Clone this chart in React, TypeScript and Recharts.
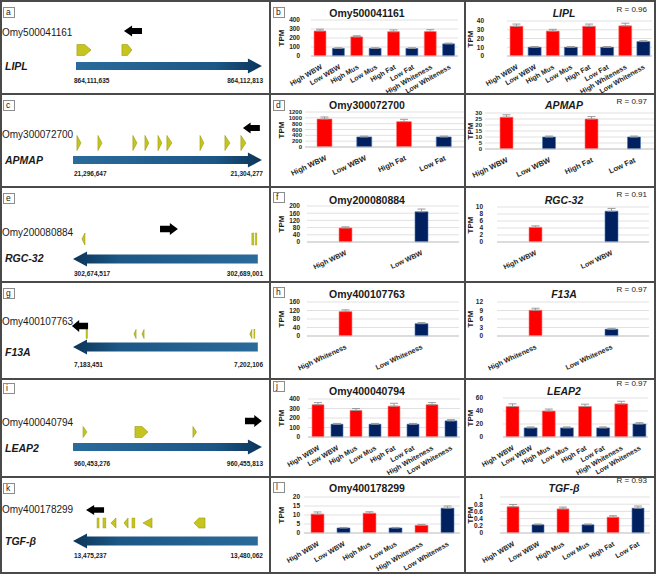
import {
  Bar,
  BarChart,
  CartesianGrid,
  Cell,
  ComposedChart,
  ErrorBar,
  ReferenceArea,
  XAxis,
  YAxis,
} from "recharts"

const FONT = "'Liberation Sans', Arial, sans-serif"
const RED = "#ff0000"
const NAVY = "#002060"
const EXON = "#c6c41e"
const INK = "#1a1a1a"

// ---- categories
const CAT_ALL = ["High WBW", "Low WBW", "High Mus", "Low Mus", "High Fat", "Low Fat", "High Whiteness", "Low Whiteness"]
const CAT_WBW_FAT = ["High WBW", "Low WBW", "High Fat", "Low Fat"]
const CAT_WBW = ["High WBW", "Low WBW"]
const CAT_WHITE = ["High Whiteness", "Low Whiteness"]
const CAT_L_MID = ["High WBW", "Low WBW", "High Mus", "Low Mus", "High Whiteness", "Low Whiteness"]
const CAT_L_RIGHT = ["High WBW", "Low WBW", "High Mus", "Low Mus", "High Fat", "Low Fat"]

// ---- TPM means and upper error bars
const B_OMY = [278, 85, 213, 85, 270, 85, 272, 135]
const B_OMY_ERR = [20, 6, 12, 6, 20, 6, 20, 8]
const B_LIPL = [34, 10, 28.5, 10, 34, 10, 34.5, 16.5]
const B_LIPL_ERR = [2.5, 0.8, 2, 0.8, 2.5, 0.8, 3, 1]
const D_OMY = [960, 345, 870, 345]
const D_OMY_ERR = [70, 30, 80, 30]
const D_APMAP = [26.5, 10, 25, 10]
const D_APMAP_ERR = [2, 0.8, 2, 0.8]
const F_OMY = [78, 168]
const F_OMY_ERR = [6, 15]
const F_RGC = [4.2, 8.8]
const F_RGC_ERR = [0.4, 0.8]
const H_OMY = [115, 58]
const H_OMY_ERR = [8, 5]
const H_F13A = [9.1, 2.4]
const H_F13A_ERR = [0.7, 0.3]
const J_OMY = [340, 135, 280, 135, 325, 135, 340, 170]
const J_OMY_ERR = [22, 8, 20, 8, 30, 8, 22, 12]
const J_LEAP2 = [47, 14, 40, 14, 47, 14, 51, 20]
const J_LEAP2_ERR = [4, 1.5, 3, 1.5, 3.5, 1.5, 4, 2]
const L_OMY = [10.5, 2.8, 11, 2.8, 4.3, 13.8]
const L_OMY_ERR = [1.2, 0.3, 0.8, 0.3, 0.5, 1.2]
const L_TGF = [0.73, 0.23, 0.67, 0.23, 0.44, 0.69]
const L_TGF_ERR = [0.06, 0.02, 0.05, 0.02, 0.04, 0.06]

// ---- y ticks
const B_OMY_TICKS = [0, 100, 200, 300, 400]
const B_LIPL_TICKS = [0, 10, 20, 30, 40]
const D_OMY_TICKS = [0, 200, 400, 600, 800, 1000, 1200]
const D_APMAP_TICKS = [0, 5, 10, 15, 20, 25, 30]
const F_OMY_TICKS = [0, 40, 80, 120, 160, 200]
const F_RGC_TICKS = [0, 2, 4, 6, 8, 10]
const H_OMY_TICKS = [0, 40, 80, 120, 160]
const H_F13A_TICKS = [0, 3, 6, 9, 12]
const J_OMY_TICKS = [0, 100, 200, 300, 400]
const J_LEAP2_TICKS = [0, 20, 40, 60]
const L_OMY_TICKS = [0, 5, 10, 15, 20]
const L_TGF_TICKS = [0, 0.2, 0.4, 0.6, 0.8, 1]

// ---- gene panels
const LEFT_LETTERS = ["a", "c", "e", "g", "i", "k"]
const MID_LETTERS = ["b", "d", "f", "h", "j", "l"]
const GENE_IDS = ["Omy500041161", "Omy300072700", "Omy200080884", "Omy400107763", "Omy400040794", "Omy400178299"]
const GENE_NAMES = ["LIPL", "APMAP", "RGC-32", "F13A", "LEAP2", "TGF-β"]
const GENE_STARTS = ["864,111,635", "21,296,647", "302,674,517", "7,183,451", "960,453,276", "13,475,237"]
const GENE_ENDS = ["864,112,813", "21,304,277", "302,689,001", "7,202,106", "960,455,813", "13,480,062"]
const R_VALUES = ["0.96", "0.97", "0.91", "0.97", "0.97", "0.93"]
const STRANDS = ["R", "R", "L", "L", "R", "L"]
// gene body span, % along the locus
const GENE_SPANS = [[0, 100], [-1.6, 100], [-1.6, 97.8], [-1.6, 97.8], [-1.6, 100], [-1.6, 97.8]]
// black arrows: [from, to, direction]
const TSS = [
  [25.8, 35.5, "L"],
  [89.8, 98.9, "L"],
  [45.2, 54.8, "R"],
  [-2.2, 6.5, "L"],
  [90.9, 100, "R"],
  [5.4, 15.1, "L"],
]
const A_EXONS = [[0.5, 8.1, "pentR"], [24.7, 30.1, "pentR"]]
const C_EXONS = [
  [0.5, 2.7, "triR"], [11.8, 14.0, "triR"], [30.6, 32.8, "triR"], [37.1, 39.2, "triR"], [44.1, 46.2, "triR"],
  [48.9, 51.6, "triR"], [66.7, 68.8, "triR"], [80.1, 82.8, "triR"], [88.7, 91.4, "triR"],
]
const E_EXONS = [[3.2, 4.8, "triL"], [94.6, 95.7, "bar"], [96.5, 97.3, "bar"]]
const G_EXONS = [[5.4, 6.2, "bar"], [31.2, 32.3, "triL"], [35.5, 36.6, "triL"], [93.5, 94.6, "triL"], [95.7, 96.2, "bar"]]
const I_EXONS = [[3.8, 5.9, "triR"], [31.7, 38.7, "pentR"], [62.9, 64.8, "triR"]]
const K_EXONS = [
  [11.3, 12.4, "bar"], [14.5, 16.1, "bar"], [18.8, 21.5, "triL"], [25.8, 28.0, "triL"],
  [30.1, 31.7, "bar"], [36.0, 40.9, "triL"], [63.4, 69.4, "pentL"],
]
const EXONS = [A_EXONS, C_EXONS, E_EXONS, G_EXONS, I_EXONS, K_EXONS]

const MID_CATS = [CAT_ALL, CAT_WBW_FAT, CAT_WBW, CAT_WHITE, CAT_ALL, CAT_L_MID]
const MID_VALUES = [B_OMY, D_OMY, F_OMY, H_OMY, J_OMY, L_OMY]
const MID_ERRS = [B_OMY_ERR, D_OMY_ERR, F_OMY_ERR, H_OMY_ERR, J_OMY_ERR, L_OMY_ERR]
const MID_TICKS = [B_OMY_TICKS, D_OMY_TICKS, F_OMY_TICKS, H_OMY_TICKS, J_OMY_TICKS, L_OMY_TICKS]
const RIGHT_CATS = [CAT_ALL, CAT_WBW_FAT, CAT_WBW, CAT_WHITE, CAT_ALL, CAT_L_RIGHT]
const RIGHT_VALUES = [B_LIPL, D_APMAP, F_RGC, H_F13A, J_LEAP2, L_TGF]
const RIGHT_ERRS = [B_LIPL_ERR, D_APMAP_ERR, F_RGC_ERR, H_F13A_ERR, J_LEAP2_ERR, L_TGF_ERR]
const RIGHT_TICKS = [B_LIPL_TICKS, D_APMAP_TICKS, F_RGC_TICKS, H_F13A_TICKS, J_LEAP2_TICKS, L_TGF_TICKS]

// layout per row (left panel values are local to the row, chart values are page coords)
const ROWS = [
  {
    top: 0, h: 94, letter: 7, id: 33, name: 66, gene: 66, geneH: 15, shaft: 8, exon: 50, exonH: 11, tss: 31, tssH: 11, coord: 81,
    mLetter: 7, title: 13, rY: 10,
    mid: { pl: 311, pr: 458, pt: 20, pb: 56, bar: 12, angle: -30, lf: 7, tf: 6.5, lr: 300 },
    right: { pl: 507, pr: 652, pt: 21, pb: 56, bar: 13, angle: -30, lf: 7, tf: 6.5, lr: 484 },
  },
  {
    top: 94, h: 93, letter: 6, id: 41, name: 66, gene: 66, geneH: 15, shaft: 8, exon: 49, exonH: 15, tss: 34, tssH: 11, coord: 80,
    mLetter: 6, title: 11, rY: 8,
    mid: { pl: 305, pr: 464, pt: 112, pb: 147, bar: 15, angle: -25, lf: 7.5, tf: 6, lr: 302 },
    right: { pl: 485, pr: 655, pt: 113, pb: 149, bar: 13, angle: -25, lf: 7.5, tf: 6, lr: 482 },
  },
  {
    top: 187, h: 95, letter: 6, id: 46, name: 71, gene: 72, geneH: 15, shaft: 9, exon: 52, exonH: 12, tss: 42, tssH: 12, coord: 87,
    mLetter: 5, title: 13, rY: 8,
    mid: { pl: 307, pr: 459, pt: 206, pb: 242, bar: 13, angle: -25, lf: 7, tf: 6.5, lr: 300 },
    right: { pl: 497, pr: 649, pt: 207, pb: 242, bar: 13, angle: -25, lf: 7, tf: 6.5, lr: 483 },
  },
  {
    top: 282, h: 97, letter: 6, id: 40, name: 70, gene: 65, geneH: 15, shaft: 9, exon: 52, exonH: 9, tss: 44, tssH: 12, coord: 83,
    mLetter: 5, title: 12, rY: 8,
    mid: { pl: 307, pr: 459, pt: 302, pb: 336, bar: 13, angle: -25, lf: 7, tf: 6.5, lr: 300 },
    right: { pl: 497, pr: 649, pt: 302, pb: 336, bar: 13, angle: -25, lf: 7, tf: 6.5, lr: 483 },
  },
  {
    top: 379, h: 98, letter: 4, id: 44, name: 69, gene: 68, geneH: 15, shaft: 8, exon: 53, exonH: 11, tss: 42, tssH: 12, coord: 85,
    mLetter: 2, title: 12, rY: 5,
    mid: { pl: 308, pr: 460, pt: 399, pb: 437, bar: 12, angle: -30, lf: 7, tf: 6.5, lr: 300 },
    right: { pl: 503, pr: 648, pt: 398, pb: 437, bar: 13, angle: -30, lf: 7, tf: 6.5, lr: 483 },
  },
  {
    top: 477, h: 96, letter: 6, id: 33, name: 64, gene: 64, geneH: 15, shaft: 9, exon: 46, exonH: 10, tss: 33, tssH: 10, coord: 79,
    mLetter: 5, title: 11, rY: 4,
    mid: { pl: 304, pr: 460, pt: 497, pb: 533, bar: 13, angle: -30, lf: 7, tf: 6.5, lr: 300 },
    right: { pl: 500, pr: 650, pt: 497, pb: 533, bar: 12, angle: -30, lf: 7, tf: 6.5, lr: 483 },
  },
]

const MID_X = 271
const MID_W = 193
const RIGHT_X = 466
const RIGHT_W = 190
const TRACK_X = 60
const TRACK_W = 206
const TRACK_DOMAIN = [-8.6, 102.2]

function Txt({ x, y, size, weight = 400, italic = false, align = "left", children }: any) {
  const tx = align === "center" ? "-50%" : align === "right" ? "-100%" : "0"
  return (
    <div
      style={{
        position: "absolute",
        left: x,
        top: y,
        transform: `translate(${tx}, -50%)`,
        fontSize: size,
        fontWeight: weight,
        fontStyle: italic ? "italic" : "normal",
        fontFamily: FONT,
        whiteSpace: "nowrap",
        lineHeight: 1,
        color: INK,
      }}
    >
      {children}
    </div>
  )
}

function LetterBox({ x, y, letter }: { x: number; y: number; letter: string }) {
  return (
    <div
      style={{
        position: "absolute",
        left: x,
        top: y,
        width: 12,
        height: 11,
        boxSizing: "border-box",
        border: "1px solid #8c8c8c",
        background: "#fff",
        fontSize: 8.5,
        fontFamily: FONT,
        lineHeight: "9px",
        paddingLeft: 2,
        color: INK,
      }}
    >
      {letter}
    </div>
  )
}

function Glyph(props: any) {
  const { x, y, width: w, height: h, kind, shaft, gradId } = props
  if (x == null || Number.isNaN(x)) return <g />
  const cy = y + h / 2
  const r = x + w
  const poly = (pts: number[][], fill: string, stroke = "none") => (
    <polygon points={pts.map((p) => p.join(",")).join(" ")} fill={fill} stroke={stroke} strokeWidth={0.6} />
  )
  if (kind === "geneR" || kind === "geneL") {
    const hl = 14
    const s = shaft / 2
    const pts =
      kind === "geneR"
        ? [[x, cy - s], [r - hl, cy - s], [r - hl, y], [r, cy], [r - hl, y + h], [r - hl, cy + s], [x, cy + s]]
        : [[r, cy - s], [x + hl, cy - s], [x + hl, y], [x, cy], [x + hl, y + h], [x + hl, cy + s], [r, cy + s]]
    const toRight = kind === "geneR"
    return (
      <g>
        <defs>
          <linearGradient id={gradId} x1={toRight ? 0 : 1} x2={toRight ? 1 : 0} y1={0} y2={0}>
            <stop offset="0" stopColor="#2a6b9b" />
            <stop offset="0.75" stopColor="#1c5786" />
            <stop offset="1" stopColor="#0c3559" />
          </linearGradient>
        </defs>
        {poly(pts, `url(#${gradId})`)}
      </g>
    )
  }
  if (kind === "blkR" || kind === "blkL") {
    const hl = w * 0.45
    const s = h * 0.28
    const pts =
      kind === "blkR"
        ? [[x, cy - s], [r - hl, cy - s], [r - hl, y], [r, cy], [r - hl, y + h], [r - hl, cy + s], [x, cy + s]]
        : [[r, cy - s], [x + hl, cy - s], [x + hl, y], [x, cy], [x + hl, y + h], [x + hl, cy + s], [r, cy + s]]
    return poly(pts, "#000")
  }
  const edge = "#9c9a12"
  if (kind === "pentR") return poly([[x, y], [x + w * 0.55, y], [r, cy], [x + w * 0.55, y + h], [x, y + h]], EXON, edge)
  if (kind === "pentL") return poly([[r, y], [r - w * 0.55, y], [x, cy], [r - w * 0.55, y + h], [r, y + h]], EXON, edge)
  if (kind === "triR") return poly([[x, y], [r, cy], [x, y + h]], EXON, edge)
  if (kind === "triL") return poly([[r, y], [x, cy], [r, y + h]], EXON, edge)
  return <rect x={x} y={y} width={Math.max(w, 1)} height={h} fill={EXON} stroke={edge} strokeWidth={0.4} />
}

function GeneTrack({ idx }: { idx: number }) {
  const row = ROWS[idx]
  const span = GENE_SPANS[idx]
  const tss = TSS[idx]
  const exons = EXONS[idx]
  return (
    <div style={{ position: "absolute", left: TRACK_X, top: row.top }}>
      <ComposedChart width={TRACK_W} height={row.h} margin={{ top: 0, right: 0, bottom: 0, left: 0 }} data={[{ x: 0, y: 0 }]}>
        <XAxis type="number" dataKey="x" domain={TRACK_DOMAIN} hide allowDataOverflow />
        <YAxis type="number" dataKey="y" domain={[0, row.h]} reversed hide allowDataOverflow />
        <ReferenceArea
          x1={span[0]}
          x2={span[1]}
          y1={row.gene - row.geneH / 2}
          y2={row.gene + row.geneH / 2}
          shape={(p: any) => (
            <Glyph {...p} kind={STRANDS[idx] === "R" ? "geneR" : "geneL"} shaft={row.shaft} gradId={`gene-grad-${idx}`} />
          )}
        />
        {exons.map((ex, i) => (
          <ReferenceArea
            key={i}
            x1={ex[0] as number}
            x2={ex[1] as number}
            y1={row.exon - row.exonH / 2}
            y2={row.exon + row.exonH / 2}
            shape={(p: any) => <Glyph {...p} kind={ex[2]} />}
          />
        ))}
        <ReferenceArea
          x1={tss[0] as number}
          x2={tss[1] as number}
          y1={row.tss - row.tssH / 2}
          y2={row.tss + row.tssH / 2}
          shape={(p: any) => <Glyph {...p} kind={tss[2] === "R" ? "blkR" : "blkL"} />}
        />
      </ComposedChart>
    </div>
  )
}

function BarPanel({ x, w, top, h, lay, cats, values, errs, ticks, tpmX }: any) {
  const data = cats.map((cat: string, i: number) => ({ cat, v: values[i], e: [0, errs[i]] }))
  const yw = lay.pl - x
  return (
    <>
      <div style={{ position: "absolute", left: x, top }}>
        <BarChart
          width={w}
          height={h}
          data={data}
          margin={{ top: lay.pt - top, right: x + w - lay.pr, bottom: 0, left: 0 }}
        >
          <CartesianGrid vertical={false} stroke="#d9d9d9" strokeWidth={0.8} />
          <XAxis
            dataKey="cat"
            interval={0}
            height={top + h - lay.pb}
            tickLine={false}
            axisLine={{ stroke: "#c8c8c8" }}
            tickMargin={2}
            tick={{
              angle: lay.angle,
              textAnchor: "end",
              fontSize: lay.lf,
              fontWeight: 700,
              fill: "#262626",
              fontFamily: FONT,
            }}
          />
          <YAxis
            type="number"
            width={yw}
            domain={[ticks[0], ticks[ticks.length - 1]]}
            ticks={ticks}
            interval={0}
            tickLine={false}
            axisLine={false}
            tickSize={0}
            tickMargin={lay.pl - lay.lr}
            tick={{ fontSize: lay.tf, fontWeight: 700, fill: "#262626", fontFamily: FONT }}
          />
          <Bar dataKey="v" barSize={lay.bar} isAnimationActive={false}>
            {data.map((d: any) => (
              <Cell
                key={d.cat}
                fill={d.cat.startsWith("High") ? RED : NAVY}
                stroke={d.cat.startsWith("High") ? "#ff8080" : "#4f79b8"}
                strokeWidth={0.6}
              />
            ))}
            <ErrorBar dataKey="e" width={4} stroke="#9a9a9a" strokeWidth={1} direction="y" isAnimationActive={false} />
          </Bar>
        </BarChart>
      </div>
      <div
        style={{
          position: "absolute",
          left: tpmX,
          top: (lay.pt + lay.pb) / 2,
          transform: "translate(-50%, -50%) rotate(-90deg)",
          fontSize: 8,
          fontWeight: 700,
          fontFamily: FONT,
          color: INK,
          lineHeight: 1,
        }}
      >
        TPM
      </div>
    </>
  )
}

function Row({ idx }: { idx: number }) {
  const row = ROWS[idx]
  const t = row.top
  return (
    <>
      {/* left: gene model */}
      <LetterBox x={3} y={t + row.letter} letter={LEFT_LETTERS[idx]} />
      <Txt x={2} y={t + row.id} size={10}>{GENE_IDS[idx]}</Txt>
      <Txt x={5} y={t + row.name} size={10.5} weight={700} italic>{GENE_NAMES[idx]}</Txt>
      <GeneTrack idx={idx} />
      <Txt x={74} y={t + row.coord} size={6.5} weight={700}>{GENE_STARTS[idx]}</Txt>
      <Txt x={263} y={t + row.coord} size={6.5} weight={700} align="right">{GENE_ENDS[idx]}</Txt>

      {/* middle: Omy gene */}
      <BarPanel
        x={MID_X} w={MID_W} top={t} h={row.h} lay={row.mid}
        cats={MID_CATS[idx]} values={MID_VALUES[idx]} errs={MID_ERRS[idx]} ticks={MID_TICKS[idx]} tpmX={282}
      />
      <LetterBox x={273} y={t + row.mLetter} letter={MID_LETTERS[idx]} />
      <Txt x={367} y={t + row.title} size={10.5} weight={700} align="center">{GENE_IDS[idx]}</Txt>

      {/* right: annotated gene */}
      <BarPanel
        x={RIGHT_X} w={RIGHT_W} top={t} h={row.h} lay={row.right}
        cats={RIGHT_CATS[idx]} values={RIGHT_VALUES[idx]} errs={RIGHT_ERRS[idx]} ticks={RIGHT_TICKS[idx]} tpmX={471}
      />
      <Txt x={564} y={t + row.title} size={10.5} weight={700} italic align="center">{GENE_NAMES[idx]}</Txt>
      <Txt x={647} y={t + row.rY} size={8} align="right">R = {R_VALUES[idx]}</Txt>
    </>
  )
}

const LINE = "#4a4a4a"

export default function App() {
  const dividers = [94, 187, 282, 379, 477]
  return (
    <div
      style={{
        position: "absolute",
        left: 0,
        top: 0,
        width: 656,
        height: 574,
        background: "#fff",
        overflow: "hidden",
        fontFamily: FONT,
      }}
    >
      {ROWS.map((_, i) => (
        <Row key={i} idx={i} />
      ))}
      {dividers.map((y) => (
        <div key={y} style={{ position: "absolute", left: 0, top: y - 1, width: 656, height: 2, background: LINE }} />
      ))}
      <div style={{ position: "absolute", left: 269, top: 0, width: 2, height: 574, background: LINE }} />
      <div style={{ position: "absolute", left: 464, top: 0, width: 2, height: 574, background: LINE }} />
      <div
        style={{
          position: "absolute",
          left: 0,
          top: 0,
          width: 656,
          height: 574,
          boxSizing: "border-box",
          border: `2px solid ${LINE}`,
          pointerEvents: "none",
        }}
      />
    </div>
  )
}
